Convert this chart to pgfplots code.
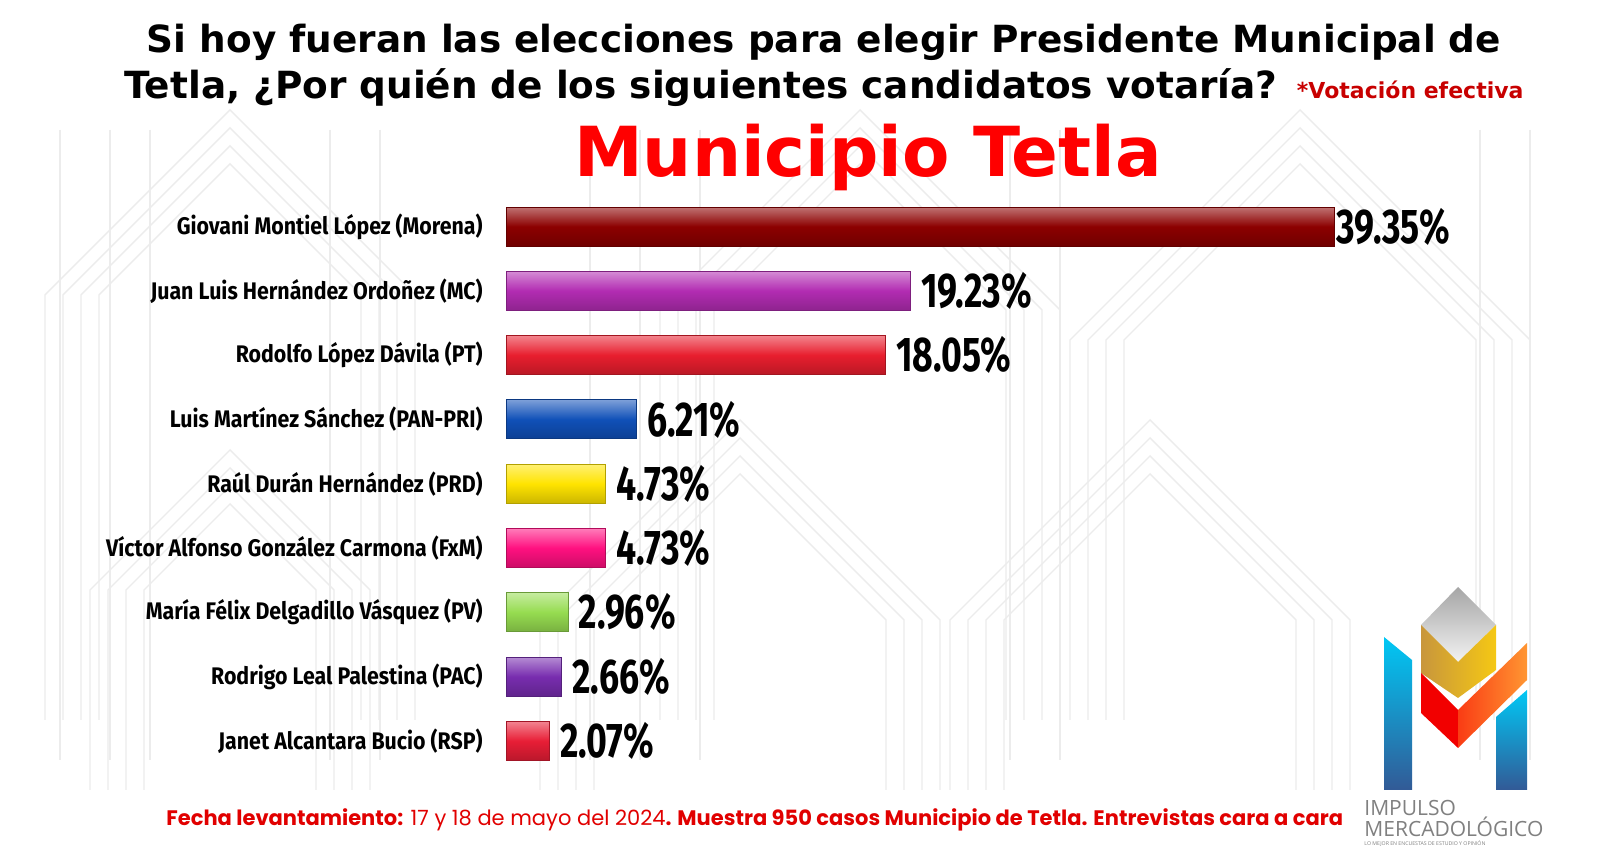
\documentclass[border=0pt]{standalone}
\usepackage{pgfplots}
\pgfplotsset{compat=1.18}
\usepackage{fontspec}
\setmainfont{Fira Sans}
\newfontfamily\titlefont{DejaVu Sans}
\newfontfamily\labfont[FakeStretch=0.89]{Fira Sans}
\newfontfamily\valfont[FakeStretch=0.73]{Fira Sans}
\newfontfamily\footfont{Poppins}
\newfontfamily\logofont{Open Sans}
\definecolor{cMor}{RGB}{140,0,0}
\definecolor{cMC}{RGB}{178,44,178}
\definecolor{cPT}{RGB}{232,30,46}
\definecolor{cPAN}{RGB}{16,80,184}
\definecolor{cPRD}{RGB}{255,228,0}
\definecolor{cFxM}{RGB}{255,16,128}
\definecolor{cPV}{RGB}{150,220,80}
\definecolor{cPAC}{RGB}{120,45,175}
\definecolor{cRSP}{RGB}{232,30,54}
\definecolor{vred}{RGB}{200,0,0}
\definecolor{fred}{RGB}{225,0,0}
\definecolor{logogray}{RGB}{128,128,128}
\definecolor{bgline}{RGB}{236,236,236}
\pgfplotsset{mybar/.style={xbar, bar shift=0pt, draw=#1!70!black, line width=0.5pt,
  top color=#1!55!white, bottom color=#1!80!black, middle color=#1}}
\begin{document}
\begin{tikzpicture}
\path[use as bounding box, fill=white] (0,0) rectangle (800pt,424.5pt);
% faint background pattern
\begin{scope}[x=0.5pt, y=-0.5pt, shift={(0pt,424.5pt)}, draw=bgline, line width=0.7pt]
  \foreach \cx/\top/\w/\bot in {230/110/185/720, 860/110/200/720, 1300/110/230/720, 230/450/140/790, 740/420/200/790, 1150/420/200/790}{
    \foreach \k in {0,1,2,3}{
      \draw ({\cx-\w+\k*18},\bot) -- ({\cx-\w+\k*18},{\top+\w}) -- (\cx,{\top+\k*18}) -- ({\cx+\w-\k*18},{\top+\w}) -- ({\cx+\w-\k*18},\bot);
    }
  }
  \foreach \x in {60,110,150,330,380,590,640,700,1010,1060,1480,1530}{
    \draw (\x,130) -- (\x,760);
  }
\end{scope}
\begin{axis}[
  at={(253pt,327.3pt)}, anchor=north west, scale only axis,
  width=526.25pt, height=289.35pt,
  xmin=0, xmax=50, ymin=-0.5, ymax=8.5, y dir=reverse,
  axis line style={draw=none}, xtick=\empty,
  ytick={0,1,2,3,4,5,6,7,8},
  yticklabels={Giovani Montiel López (Morena), Juan Luis Hernández Ordoñez (MC), Rodolfo López Dávila (PT), Luis Martínez Sánchez (PAN-PRI), Raúl Durán Hernández (PRD), Víctor Alfonso González Carmona (FxM), María Félix Delgadillo Vásquez (PV), Rodrigo Leal Palestina (PAC), Janet Alcantara Bucio (RSP)},
  major tick length=0pt,
  yticklabel style={font=\labfont\bfseries\fontsize{12}{14}\selectfont, inner sep=0pt, xshift=-11.5pt, anchor=east},
  bar width=19.5pt,
  point meta=x,
  /pgf/number format/assume math mode=true,
  nodes near coords={\pgfmathprintnumber[fixed,fixed zerofill,precision=2]{\pgfplotspointmeta}\%},
  every node near coord/.append style={font=\valfont\bfseries\fontsize{24.4}{26}\selectfont, anchor=west, inner sep=0pt, xshift=5pt, text=black},
  clip=false,
]
\addplot[mybar=cMor, every node near coord/.append style={xshift=-4pt}] coordinates {(39.35,0)};
\addplot[mybar=cMC] coordinates {(19.23,1)};
\addplot[mybar=cPT] coordinates {(18.05,2)};
\addplot[mybar=cPAN] coordinates {(6.21,3)};
\addplot[mybar=cPRD] coordinates {(4.73,4)};
\addplot[mybar=cFxM] coordinates {(4.73,5)};
\addplot[mybar=cPV] coordinates {(2.96,6)};
\addplot[mybar=cPAC] coordinates {(2.66,7)};
\addplot[mybar=cRSP] coordinates {(2.07,8)};
\end{axis}
\node[anchor=base, inner sep=0pt, font=\titlefont\bfseries\fontsize{18.7}{22}\selectfont] at (412pt,398pt) {Si hoy fueran las elecciones para elegir Presidente Municipal de};
\node[anchor=base west, inner sep=0pt, font=\titlefont\bfseries\fontsize{18.7}{22}\selectfont] at (62pt,375pt) {Tetla, ¿Por quién de los siguientes candidatos votaría?\hspace{1pt} {\color{vred}\fontsize{11}{13}\selectfont *Votación efectiva}};
\node[anchor=base, inner sep=0pt, text=red, font=\titlefont\bfseries\fontsize{34.5}{38}\selectfont] at (434pt,336pt) {Municipio Tetla};
\node[anchor=base west, inner sep=0pt, text=fred, font=\footfont\fontsize{10.5}{12}\selectfont] at (83pt,11.5pt) {{\bfseries Fecha levantamiento:} 17 y 18 de mayo del 2024{\bfseries. Muestra 950 casos Municipio de Tetla. Entrevistas cara a cara}};
\begin{scope}[x=0.5pt, y=-0.5pt, shift={(0pt,424.5pt)}]
  \shade[top color={rgb,255:red,0;green,200;blue,245}, bottom color={rgb,255:red,50;green,90;blue,150}] (1384,637) -- (1412,660) -- (1412,790) -- (1384,790) -- cycle;
  \shade[top color={rgb,255:red,0;green,200;blue,245}, bottom color={rgb,255:red,50;green,90;blue,150}] (1496,717) -- (1527,690) -- (1527,790) -- (1496,790) -- cycle;
  \shade[top color=gray!70, bottom color=gray!10] (1458,587) -- (1496,625) -- (1458,662) -- (1421,625) -- cycle;
  \shade[left color={rgb,255:red,200;green,150;blue,60}, right color={rgb,255:red,245;green,200;blue,20}] (1421,625) -- (1458,662) -- (1496,625) -- (1496,670) -- (1458,698) -- (1421,673) -- cycle;
  \fill[red!95!black] (1421,673) -- (1458,710) -- (1458,748) -- (1421,713) -- cycle;
  \shade[left color={rgb,255:red,250;green,60;blue,20}, right color={rgb,255:red,255;green,150;blue,50}] (1458,710) -- (1527,643) -- (1527,680) -- (1458,748) -- cycle;
  \node[anchor=base west, inner sep=0pt, text=logogray, font=\logofont\fontsize{10.5}{12}\selectfont] at (1364,816) {IMPULSO};
  \node[anchor=base west, inner sep=0pt, text=logogray, font=\logofont\fontsize{10.5}{12}\selectfont] at (1364,837) {MERCADOLÓGICO};
  \node[anchor=base west, inner sep=0pt, text=logogray, font=\logofont\fontsize{2.6}{3}\selectfont] at (1364,846) {LO MEJOR EN ENCUESTAS DE ESTUDIO Y OPINIÓN};
\end{scope}
\end{tikzpicture}
\end{document}
